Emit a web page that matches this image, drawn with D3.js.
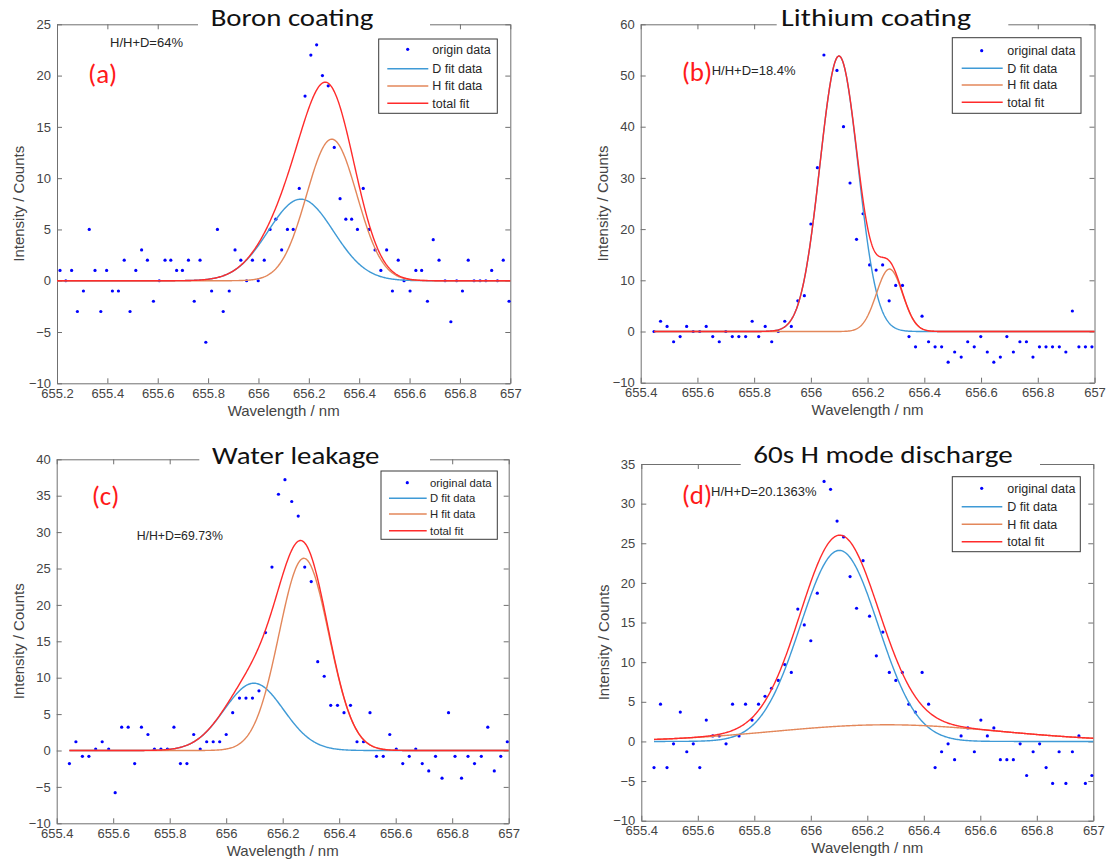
<!DOCTYPE html>
<html>
<head>
<meta charset="utf-8">
<title>Balmer-alpha H/D line fits</title>
<script src="https://cdn.jsdelivr.net/npm/d3@7"></script>
<style>
  html, body { margin: 0; padding: 0; background: #ffffff; }
  svg { display: block; }
</style>
</head>
<body>
<svg id="fig" width="1110" height="865"></svg>
<script>
// ---------------- data ----------------
const titles = ["Boron coating", "Lithium coating", "Water leakage", "60s H mode discharge"];
const panelTags = ["(a)", "(b)", "(c)", "(d)"];
const ratioLabels = ["H/H+D=64%", "H/H+D=18.4%", "H/H+D=69.73%", "H/H+D=20.1363%"];
const legendNamesA = ["origin data", "D fit data", "H fit data", "total fit"];
const legendNamesBCD = ["original data", "D fit data", "H fit data", "total fit"];
const axisTitleX = "Wavelength / nm";
const axisTitleY = "Intensity / Counts";

const xTicksA = [655.2, 655.4, 655.6, 655.8, 656, 656.2, 656.4, 656.6, 656.8, 657];
const xTicksBCD = [655.4, 655.6, 655.8, 656, 656.2, 656.4, 656.6, 656.8, 657];
const yTicksA = [-10, -5, 0, 5, 10, 15, 20, 25];
const yTicksB = [-10, 0, 10, 20, 30, 40, 50, 60];
const yTicksC = [-10, -5, 0, 5, 10, 15, 20, 25, 30, 35, 40];
const yTicksD = [-10, -5, 0, 5, 10, 15, 20, 25, 30, 35];

// (a) Boron coating: wavelength (nm) and counts
const waveA = [655.212, 655.235, 655.258, 655.281, 655.305, 655.328, 655.351, 655.374, 655.397, 655.420,
               655.444, 655.467, 655.490, 655.513, 655.536, 655.559, 655.583, 655.606, 655.629, 655.652,
               655.675, 655.698, 655.722, 655.745, 655.768, 655.791, 655.814, 655.837, 655.860, 655.884,
               655.907, 655.930, 655.953, 655.976, 655.999, 656.023, 656.046, 656.069, 656.092, 656.115,
               656.138, 656.162, 656.185, 656.208, 656.231, 656.254, 656.277, 656.301, 656.324, 656.347,
               656.370, 656.393, 656.416, 656.440, 656.463, 656.486, 656.509, 656.532, 656.555, 656.578,
               656.602, 656.625, 656.648, 656.671, 656.694, 656.717, 656.741, 656.764, 656.787, 656.810,
               656.833, 656.856, 656.880, 656.903, 656.926, 656.949, 656.972, 656.995];
const countsA = [1, 0, 1, -3, -1, 5, 1, -3, 1, -1,
                 -1, 2, -3, 1, 3, 2, -2, 0, 2, 2,
                 1, 1, 2, -2, 2, -6, -1, 5, -3, -1,
                 3, 2, 0, 2, 0, 2, 5, 6, 3, 5,
                 5, 9, 18, 22, 23, 20, 19, 13, 8, 6,
                 6, 5, 9, 5, 3, 1, 3, -1, 2, 0,
                 -1, 1, 1, -2, 4, 2, 0, -4, 0, -1,
                 2, 0, 0, 0, 1, 0, 2, -2];

// (b) Lithium coating
const waveB = [655.447, 655.470, 655.493, 655.516, 655.539, 655.562, 655.585, 655.608, 655.631, 655.654,
               655.677, 655.700, 655.723, 655.746, 655.770, 655.793, 655.816, 655.839, 655.862, 655.885,
               655.908, 655.931, 655.954, 655.977, 656.000, 656.023, 656.046,
               656.092, 656.115, 656.138, 656.161, 656.184, 656.207, 656.230, 656.253, 656.276, 656.299,
               656.323, 656.346, 656.369, 656.392, 656.415, 656.438, 656.461, 656.484, 656.507, 656.530,
               656.553, 656.576, 656.599, 656.622, 656.645, 656.668, 656.691, 656.714, 656.737, 656.760,
               656.783, 656.806, 656.829, 656.852, 656.876, 656.899, 656.922, 656.945, 656.968, 656.991];
const countsB = [0, 2, 1, -2, -1, 1, 0, 0, 1, -1,
                 -2, 0, -1, -1, -1, 2, -1, 1, -2, 0,
                 2, 1, 6, 7, 21, 32, 54,
                 51, 40, 29, 18, 23, 13, 12, 13, 6, 9,
                 9, -1, -3, 3, -2, -3, -3, -6, -4, -5,
                 -2, -3, -1, -4, -6, -5, -1, -4, -2, -2,
                 -5, -3, -3, -3, -3, -4, 4, -3, -3, -3];

// (c) Water leakage and (d) 60s H mode discharge share one wavelength grid
const waveCD = [655.445, 655.468, 655.491, 655.514, 655.538, 655.561, 655.584, 655.607, 655.630, 655.653,
                655.676, 655.700, 655.723, 655.746, 655.769, 655.792, 655.815, 655.838, 655.861, 655.885,
                655.908, 655.931, 655.954, 655.977, 656.000, 656.023, 656.047, 656.070, 656.093, 656.116,
                656.139, 656.162, 656.185, 656.208, 656.232, 656.255, 656.278, 656.301, 656.324, 656.347,
                656.370, 656.394, 656.417, 656.440, 656.463, 656.486, 656.509, 656.532, 656.556, 656.579,
                656.602, 656.625, 656.648, 656.671, 656.694, 656.717, 656.741, 656.764, 656.787, 656.810,
                656.833, 656.856, 656.879, 656.903, 656.926, 656.949, 656.972, 656.995];
const countsC = [-1.8, 1.2, -0.8, -0.8, 0.2, 1.2, 0.2, -5.8, 3.2, 3.2,
                 -1.8, 3.2, 2.2, 0.2, 0.2, 0.2, 3.2, -1.8, -1.8, 2.2,
                 0.2, 1.2, 1.2, 1.2, 2.2, 5.2, 7.2, 7.2, 7.2, 8.2,
                 16.2, 25.2, 35.2, 37.2, 34.2, 32.2, 25.2, 23.2, 12.2, 10.2,
                 6.2, 6.2, 5.2, 6.2, 1.2, 1.2, 5.2, -0.8, -0.8, 2.2,
                 0.2, -1.8, -0.8, 0.2, -1.8, -2.8, -0.8, -3.8, 5.2, -0.8,
                 -3.8, -0.8, -1.8, -0.8, 3.2, -2.8, -0.8, 1.2];
const countsD = [-3.3, 4.7, -3.3, -0.3, 3.7, -1.3, -0.3, -3.3, 2.7, 0.7,
                 0.7, -0.3, 4.7, 0.7, 4.7, 2.7, 4.7, 5.7, 6.7, 7.7,
                 9.7, 8.7, 16.7, 14.7, 12.7, 18.7, 32.8, 31.8, 27.8, 25.8,
                 20.8, 16.8, 22.8, 15.8, 10.8, 13.8, 8.7, 7.7, 8.7, 4.7,
                 3.7, 8.7, 4.7, -3.3, -1.3, -0.3, -2.3, 0.7, 1.7, -1.3,
                 2.7, 0.7, 1.7, -2.3, -2.3, -2.3, -0.3, -4.3, -1.3, -0.3,
                 -3.3, -5.3, -1.3, -5.3, -1.3, 0.7, -5.3, -4.3];

// Gaussian fit components: [amplitude (counts), centre (nm), sigma (nm)]
const fitDA = [7.95, 656.168, 0.130];
const fitHA = [13.8, 656.291, 0.100];
const fitDB = [53.8, 656.099, 0.067];
const fitHB = [12.2, 656.277, 0.046];
const fitDC = [9.24, 656.098, 0.105];
const fitHC = [26.4, 656.275, 0.088];
const fitDD = [24.1, 656.101, 0.138];
const fitHD = [2.1, 656.270, 0.400];

// ---------------- styling ----------------
const COL_PT = "#0000ff";
const COL_D = "#3f9ad6";
const COL_H = "#e3875a";
const COL_T = "#ff2b2b";
const AXIS_COL = "#707070";
const LABEL_COL = "#444444";
const SANS = "'Liberation Sans', Arial, Helvetica, sans-serif";
const HUMANIST = "Carlito, Lato, 'Open Sans', sans-serif";

const panels = [
  {
    wave: waveA, counts: countsA, fitD: fitDA, fitH: fitHA,
    xDomain: [655.2, 657], yDomain: [-10, 25], xTicks: xTicksA, yTicks: yTicksA,
    box: {l: 57, r: 510.3, t: 24.3, b: 383.3}, curveFrom: 655.2,
    title: titles[0], titleX: 292, titleY: 25.5, titleW: 162.7, titleMask: [198, 430],
    tag: panelTags[0], tagX: 88, tagY: 74,
    ratio: ratioLabels[0], ratioX: 110, ratioY: 42.3, ratioSize: 13,
    legendNames: legendNamesA,
    legend: {l: 378.7, r: 497.3, t: 39, b: 113.3, rows: [49.3, 68.7, 86, 103.3], x1: 387.3, x2: 428.3, mx: 407.7, tx: 432.3, fs: 12.5}
  },
  {
    wave: waveB, counts: countsB, fitD: fitDB, fitH: fitHB,
    xDomain: [655.4, 657], yDomain: [-10, 60], xTicks: xTicksBCD, yTicks: yTicksB,
    box: {l: 640.7, r: 1094.5, t: 24.3, b: 382.7}, curveFrom: waveB[0],
    title: titles[1], titleX: 876, titleY: 25.5, titleW: 190, titleMask: [776.7, 1008.3],
    tag: panelTags[1], tagX: 681.7, tagY: 71.7,
    ratio: ratioLabels[1], ratioX: 711.7, ratioY: 70, ratioSize: 13,
    legendNames: legendNamesBCD,
    legend: {l: 952.3, r: 1081, t: 37.7, b: 113.3, rows: [50.7, 68.3, 85, 102.3], x1: 961.7, x2: 1002.7, mx: 981.7, tx: 1007.3, fs: 12.5}
  },
  {
    wave: waveCD, counts: countsC, fitD: fitDC, fitH: fitHC,
    xDomain: [655.4, 657], yDomain: [-10, 40], xTicks: xTicksBCD, yTicks: yTicksC,
    box: {l: 56.7, r: 508.7, t: 459.3, b: 823.3}, curveFrom: waveCD[0],
    title: titles[2], titleX: 295.7, titleY: 464.3, titleW: 167.3, titleMask: [199.3, 430],
    tag: panelTags[2], tagX: 91.7, tagY: 496,
    ratio: ratioLabels[2], ratioX: 136.7, ratioY: 536, ratioSize: 12.3,
    legendNames: legendNamesBCD,
    legend: {l: 381, r: 497.3, t: 471, b: 539.3, rows: [482.7, 498.3, 514, 530.7], x1: 389, x2: 426.7, mx: 407.3, tx: 430, fs: 11.3}
  },
  {
    wave: waveCD, counts: countsD, fitD: fitDD, fitH: fitHD,
    xDomain: [655.4, 657], yDomain: [-10, 35], xTicks: xTicksBCD, yTicks: yTicksD,
    box: {l: 641.3, r: 1093.3, t: 464, b: 820.7}, curveFrom: waveCD[0],
    title: titles[3], titleX: 883, titleY: 463.3, titleW: 259.4, titleMask: [740.7, 1040],
    tag: panelTags[3], tagX: 681.7, tagY: 495,
    ratio: ratioLabels[3], ratioX: 711, ratioY: 491.7, ratioSize: 13,
    legendNames: legendNamesBCD,
    legend: {l: 952.3, r: 1080.3, t: 476.7, b: 551.7, rows: [488.3, 506.7, 524.3, 541.7], x1: 961.7, x2: 1002.3, mx: 981.7, tx: 1007.3, fs: 12.5}
  }
];

const gauss = (p, x) => p[0] * Math.exp(-((x - p[1]) ** 2) / (2 * p[2] * p[2]));
const fmtX = d => String(+d.toFixed(1));

const svg = d3.select("#fig");

function drawPanel(p) {
  const g = svg.append("g");
  const x = d3.scaleLinear().domain(p.xDomain).range([p.box.l, p.box.r]);
  const y = d3.scaleLinear().domain(p.yDomain).range([p.box.b, p.box.t]);

  // axes box with inward ticks on all four sides
  const styleAxis = sel => {
    sel.attr("font-family", SANS).attr("font-size", 13);
    sel.select(".domain").attr("stroke", AXIS_COL);
    sel.selectAll(".tick line").attr("stroke", AXIS_COL);
    sel.selectAll(".tick text").attr("fill", LABEL_COL);
  };
  g.append("g").attr("transform", `translate(0,${p.box.b})`)
    .call(d3.axisBottom(x).tickValues(p.xTicks).tickFormat(fmtX).tickSizeInner(-5).tickSizeOuter(0).tickPadding(5))
    .call(styleAxis);
  g.append("g").attr("transform", `translate(0,${p.box.t})`)
    .call(d3.axisTop(x).tickValues(p.xTicks).tickFormat("").tickSizeInner(-5).tickSizeOuter(0))
    .call(styleAxis);
  g.append("g").attr("transform", `translate(${p.box.l},0)`)
    .call(d3.axisLeft(y).tickValues(p.yTicks).tickFormat(d3.format("d")).tickSizeInner(-5).tickSizeOuter(0).tickPadding(6))
    .call(styleAxis);
  g.append("g").attr("transform", `translate(${p.box.r},0)`)
    .call(d3.axisRight(y).tickValues(p.yTicks).tickFormat("").tickSizeInner(-5).tickSizeOuter(0))
    .call(styleAxis);

  // axis titles
  g.append("text")
    .attr("x", (p.box.l + p.box.r) / 2).attr("y", p.box.b + 32.5)
    .attr("text-anchor", "middle").attr("font-family", SANS).attr("font-size", 15)
    .attr("fill", LABEL_COL).text(axisTitleX);
  g.append("text")
    .attr("transform", `translate(${p.box.l - 32.6},${(p.box.t + p.box.b) / 2}) rotate(-90)`)
    .attr("text-anchor", "middle").attr("font-family", SANS).attr("font-size", 15)
    .attr("fill", LABEL_COL).text(axisTitleY);

  // measured spectrum
  g.append("g").selectAll("circle")
    .data(d3.zip(p.wave, p.counts))
    .join("circle")
    .attr("cx", d => x(d[0])).attr("cy", d => y(d[1]))
    .attr("r", 1.6).attr("fill", COL_PT);

  // fitted components and their sum
  const grid = d3.range(0, 601).map(i => p.curveFrom + (p.xDomain[1] - p.curveFrom) * i / 600);
  const line = d3.line().x(d => x(d[0])).y(d => y(d[1]));
  const curves = [
    {c: COL_D, f: t => gauss(p.fitD, t)},
    {c: COL_H, f: t => gauss(p.fitH, t)},
    {c: COL_T, f: t => gauss(p.fitD, t) + gauss(p.fitH, t)}
  ];
  curves.forEach(cv => {
    g.append("path")
      .attr("d", line(grid.map(t => [t, cv.f(t)])))
      .attr("fill", "none").attr("stroke", cv.c).attr("stroke-width", 1.4)
      .attr("stroke-linejoin", "round");
  });

  // title on a white band that interrupts the top edge of the box
  g.append("rect")
    .attr("x", p.titleMask[0]).attr("y", p.box.t - 22)
    .attr("width", p.titleMask[1] - p.titleMask[0]).attr("height", 30)
    .attr("fill", "#ffffff");
  g.append("text")
    .attr("x", p.titleX).attr("y", p.titleY)
    .attr("text-anchor", "middle").attr("font-family", HUMANIST).attr("font-size", 25)
    .attr("textLength", p.titleW).attr("lengthAdjust", "spacingAndGlyphs")
    .attr("fill", "#111111").text(p.title);

  // panel tag and ratio annotation
  g.append("text")
    .attr("x", p.tagX).attr("y", p.tagY).attr("dy", "0.35em")
    .attr("font-family", HUMANIST).attr("font-size", 27)
    .attr("fill", "#ff1a1a").text(p.tag);
  g.append("text")
    .attr("x", p.ratioX).attr("y", p.ratioY).attr("dy", "0.35em")
    .attr("font-family", SANS).attr("font-size", p.ratioSize)
    .attr("fill", "#262626").text(p.ratio);

  // legend
  const L = p.legend;
  const lg = g.append("g").attr("font-family", SANS).attr("font-size", L.fs).attr("fill", "#262626");
  lg.append("rect")
    .attr("x", L.l).attr("y", L.t).attr("width", L.r - L.l).attr("height", L.b - L.t)
    .attr("fill", "#ffffff").attr("stroke", "#3a3a3a").attr("stroke-width", 1);
  lg.append("circle").attr("cx", L.mx).attr("cy", L.rows[0]).attr("r", 1.6).attr("fill", COL_PT);
  [COL_D, COL_H, COL_T].forEach((c, i) => {
    lg.append("line")
      .attr("x1", L.x1).attr("x2", L.x2).attr("y1", L.rows[i + 1]).attr("y2", L.rows[i + 1])
      .attr("stroke", c).attr("stroke-width", 1.4);
  });
  p.legendNames.forEach((name, i) => {
    lg.append("text").attr("x", L.tx).attr("y", L.rows[i]).attr("dy", "0.35em").text(name);
  });
}

panels.forEach(drawPanel);
</script>
</body>
</html>
